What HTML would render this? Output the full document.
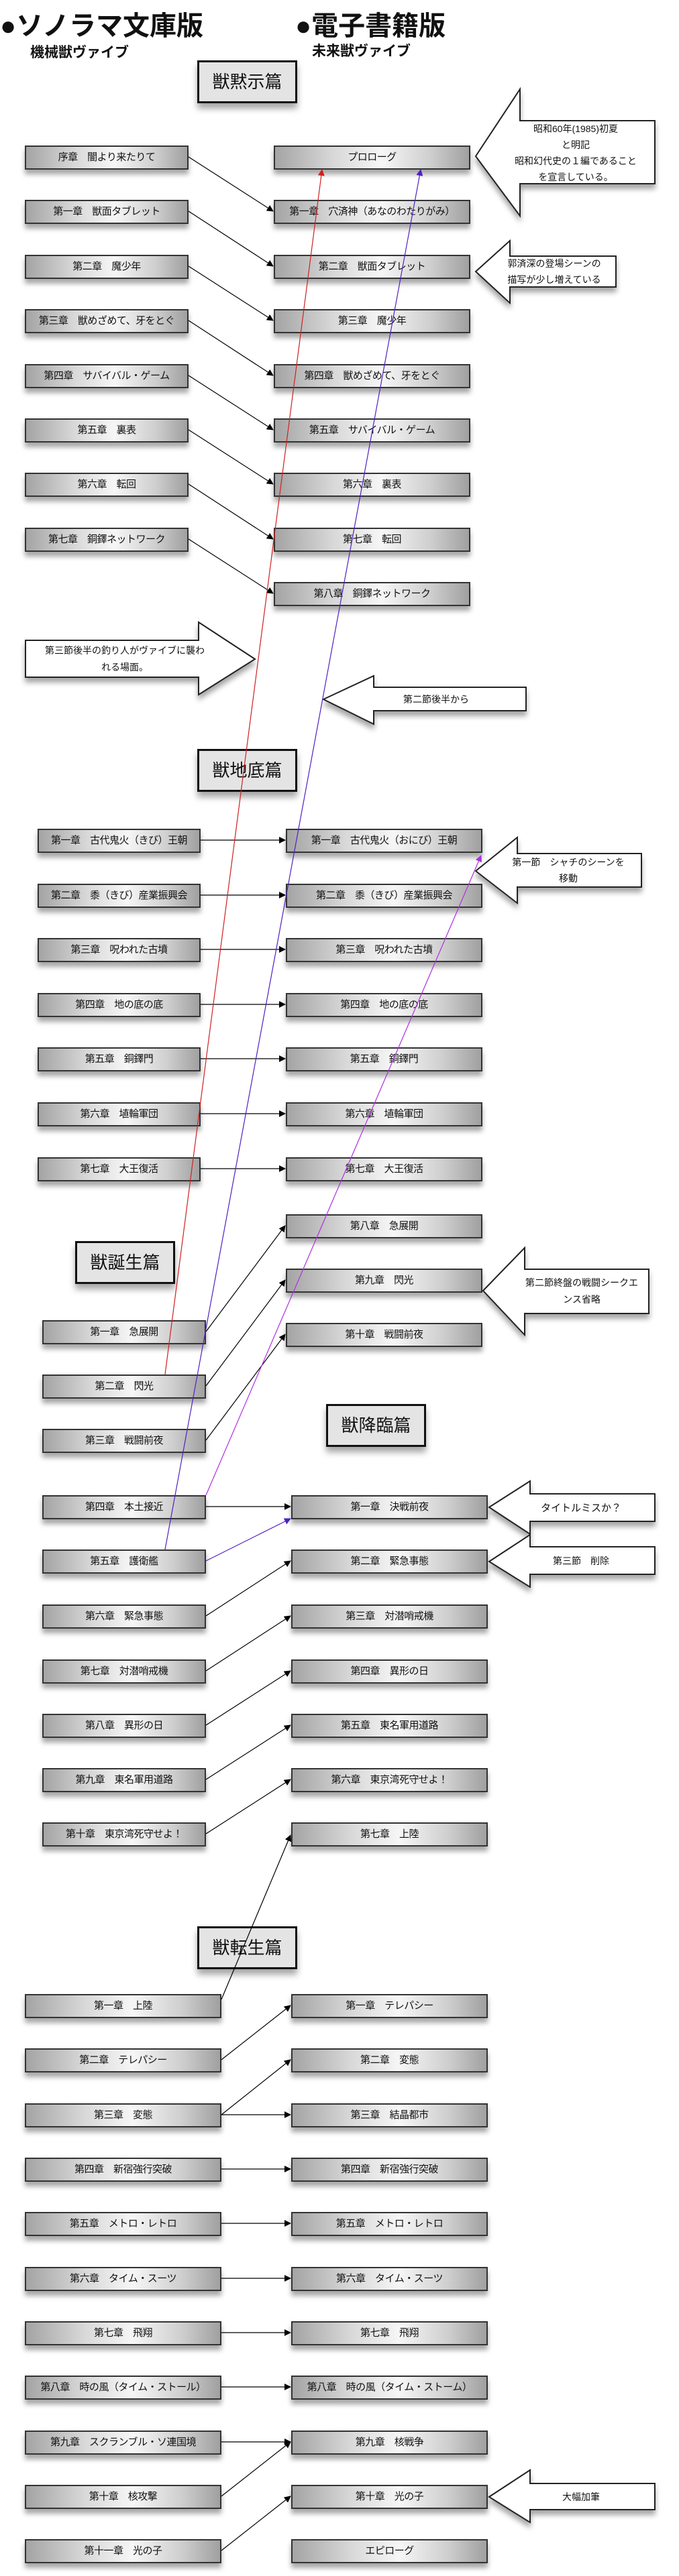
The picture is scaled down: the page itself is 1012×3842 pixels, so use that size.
<!DOCTYPE html>
<html><head><meta charset="utf-8">
<style>
html,body{margin:0;padding:0;background:#fff;}
body{width:1012px;height:3842px;position:relative;overflow:hidden;font-family:"Liberation Sans","Noto Sans CJK JP",sans-serif;color:#111;}
.b{position:absolute;height:32px;border:2px solid #333;box-sizing:content-box;background:linear-gradient(90deg,#a4a4a4 0%,#d8d8d8 30%,#f6f6f6 55%,#cfcfcf 80%,#a0a0a0 100%);box-shadow:0 7px 7px rgba(0,0,0,0.35);font-size:15px;line-height:32px;text-align:center;white-space:nowrap;overflow:hidden;letter-spacing:-0.5px}
.s{position:absolute;width:143px;height:58px;border:3px solid #111;background:#e4e4e4;box-shadow:0 8px 9px rgba(0,0,0,0.35);font-size:26px;line-height:58px;text-align:center}
.t{position:absolute;font-weight:bold;white-space:nowrap}
svg{position:absolute;left:0;top:0}
</style></head><body>
<div class="t" style="left:0;top:6px;font-size:40px">●ソノラマ文庫版</div>
<div class="t" style="left:440px;top:6px;font-size:40px">●電子書籍版</div>
<div class="t" style="left:45px;top:62px;font-size:21px">機械獣ヴァイブ</div>
<div class="t" style="left:465px;top:60px;font-size:21px">未来獣ヴァイブ</div>

<div class="s" style="left:294px;top:90px">獣黙示篇</div>
<div class="s" style="left:294px;top:1117px">獣地底篇</div>
<div class="s" style="left:112px;top:1851px">獣誕生篇</div>
<div class="s" style="left:486px;top:2094px">獣降臨篇</div>
<div class="s" style="left:294px;top:2873px">獣転生篇</div>

<!-- 黙示 left -->
<div class="b" style="left:37px;top:217px;width:240px">序章　闇より来たりて</div>
<div class="b" style="left:37px;top:298px;width:240px">第一章　獣面タブレット</div>
<div class="b" style="left:37px;top:380px;width:240px">第二章　魔少年</div>
<div class="b" style="left:37px;top:461px;width:240px">第三章　獣めざめて、牙をとぐ</div>
<div class="b" style="left:37px;top:543px;width:240px">第四章　サバイバル・ゲーム</div>
<div class="b" style="left:37px;top:624px;width:240px">第五章　裏表</div>
<div class="b" style="left:37px;top:705px;width:240px">第六章　転回</div>
<div class="b" style="left:37px;top:787px;width:240px">第七章　銅鐸ネットワーク</div>
<!-- 黙示 right -->
<div class="b" style="left:408px;top:217px;width:289px">プロローグ</div>
<div class="b" style="left:408px;top:298px;width:289px">第一章　穴済神（あなのわたりがみ）</div>
<div class="b" style="left:408px;top:380px;width:289px">第二章　獣面タブレット</div>
<div class="b" style="left:408px;top:461px;width:289px">第三章　魔少年</div>
<div class="b" style="left:408px;top:543px;width:289px">第四章　獣めざめて、牙をとぐ</div>
<div class="b" style="left:408px;top:624px;width:289px">第五章　サバイバル・ゲーム</div>
<div class="b" style="left:408px;top:705px;width:289px">第六章　裏表</div>
<div class="b" style="left:408px;top:787px;width:289px">第七章　転回</div>
<div class="b" style="left:408px;top:868px;width:289px">第八章　銅鐸ネットワーク</div>

<!-- 地底 -->
<div class="b" style="left:56px;top:1236px;width:239px">第一章　古代鬼火（きび）王朝</div>
<div class="b" style="left:56px;top:1318px;width:239px">第二章　黍（きび）産業振興会</div>
<div class="b" style="left:56px;top:1399px;width:239px">第三章　呪われた古墳</div>
<div class="b" style="left:56px;top:1481px;width:239px">第四章　地の底の底</div>
<div class="b" style="left:56px;top:1562px;width:239px">第五章　銅鐸門</div>
<div class="b" style="left:56px;top:1644px;width:239px">第六章　埴輪軍団</div>
<div class="b" style="left:56px;top:1726px;width:239px">第七章　大王復活</div>
<div class="b" style="left:426px;top:1236px;width:289px">第一章　古代鬼火（おにび）王朝</div>
<div class="b" style="left:426px;top:1318px;width:289px">第二章　黍（きび）産業振興会</div>
<div class="b" style="left:426px;top:1399px;width:289px">第三章　呪われた古墳</div>
<div class="b" style="left:426px;top:1481px;width:289px">第四章　地の底の底</div>
<div class="b" style="left:426px;top:1562px;width:289px">第五章　銅鐸門</div>
<div class="b" style="left:426px;top:1644px;width:289px">第六章　埴輪軍団</div>
<div class="b" style="left:426px;top:1726px;width:289px">第七章　大王復活</div>
<div class="b" style="left:426px;top:1811px;width:289px">第八章　急展開</div>
<div class="b" style="left:426px;top:1892px;width:289px">第九章　閃光</div>
<div class="b" style="left:426px;top:1973px;width:289px">第十章　戦闘前夜</div>

<!-- 誕生 left -->
<div class="b" style="left:63px;top:1969px;width:240px">第一章　急展開</div>
<div class="b" style="left:63px;top:2050px;width:240px">第二章　閃光</div>
<div class="b" style="left:63px;top:2131px;width:240px">第三章　戦闘前夜</div>
<div class="b" style="left:63px;top:2230px;width:240px">第四章　本土接近</div>
<div class="b" style="left:63px;top:2311px;width:240px">第五章　護衛艦</div>
<div class="b" style="left:63px;top:2393px;width:240px">第六章　緊急事態</div>
<div class="b" style="left:63px;top:2475px;width:240px">第七章　対潜哨戒機</div>
<div class="b" style="left:63px;top:2556px;width:240px">第八章　異形の日</div>
<div class="b" style="left:63px;top:2637px;width:240px">第九章　東名軍用道路</div>
<div class="b" style="left:63px;top:2718px;width:240px">第十章　東京湾死守せよ！</div>
<!-- 降臨 right -->
<div class="b" style="left:434px;top:2230px;width:289px">第一章　決戦前夜</div>
<div class="b" style="left:434px;top:2311px;width:289px">第二章　緊急事態</div>
<div class="b" style="left:434px;top:2393px;width:289px">第三章　対潜哨戒機</div>
<div class="b" style="left:434px;top:2475px;width:289px">第四章　異形の日</div>
<div class="b" style="left:434px;top:2556px;width:289px">第五章　東名軍用道路</div>
<div class="b" style="left:434px;top:2637px;width:289px">第六章　東京湾死守せよ！</div>
<div class="b" style="left:434px;top:2718px;width:289px">第七章　上陸</div>

<!-- 転生 -->
<div class="b" style="left:37px;top:2974px;width:289px">第一章　上陸</div>
<div class="b" style="left:37px;top:3055px;width:289px">第二章　テレパシー</div>
<div class="b" style="left:37px;top:3137px;width:289px">第三章　変態</div>
<div class="b" style="left:37px;top:3218px;width:289px">第四章　新宿強行突破</div>
<div class="b" style="left:37px;top:3299px;width:289px">第五章　メトロ・レトロ</div>
<div class="b" style="left:37px;top:3381px;width:289px">第六章　タイム・スーツ</div>
<div class="b" style="left:37px;top:3462px;width:289px">第七章　飛翔</div>
<div class="b" style="left:37px;top:3543px;width:289px">第八章　時の風（タイム・ストール）</div>
<div class="b" style="left:37px;top:3625px;width:289px">第九章　スクランブル・ソ連国境</div>
<div class="b" style="left:37px;top:3706px;width:289px">第十章　核攻撃</div>
<div class="b" style="left:37px;top:3787px;width:289px">第十一章　光の子</div>
<div class="b" style="left:434px;top:2974px;width:289px">第一章　テレパシー</div>
<div class="b" style="left:434px;top:3055px;width:289px">第二章　変態</div>
<div class="b" style="left:434px;top:3137px;width:289px">第三章　結晶都市</div>
<div class="b" style="left:434px;top:3218px;width:289px">第四章　新宿強行突破</div>
<div class="b" style="left:434px;top:3299px;width:289px">第五章　メトロ・レトロ</div>
<div class="b" style="left:434px;top:3381px;width:289px">第六章　タイム・スーツ</div>
<div class="b" style="left:434px;top:3462px;width:289px">第七章　飛翔</div>
<div class="b" style="left:434px;top:3543px;width:289px">第八章　時の風（タイム・ストーム）</div>
<div class="b" style="left:434px;top:3625px;width:289px">第九章　核戦争</div>
<div class="b" style="left:434px;top:3706px;width:289px">第十章　光の子</div>
<div class="b" style="left:434px;top:3787px;width:289px">エピローグ</div>

<svg width="1012" height="3842" viewBox="0 0 1012 3842" font-family="Liberation Sans, Noto Sans CJK JP, sans-serif">
<defs>
<filter id="sh" x="-10%" y="-10%" width="130%" height="140%"><feDropShadow dx="0" dy="7" stdDeviation="4" flood-color="#000" flood-opacity="0.35"/></filter>
<marker id="ak" markerWidth="10" markerHeight="10" refX="9" refY="5" orient="auto" markerUnits="userSpaceOnUse"><path d="M0,0 L10,5 L0,10 z" fill="#000"/></marker>
<marker id="ar" markerWidth="10" markerHeight="10" refX="9" refY="5" orient="auto" markerUnits="userSpaceOnUse"><path d="M0,0 L10,5 L0,10 z" fill="#d02020"/></marker>
<marker id="ap" markerWidth="10" markerHeight="10" refX="9" refY="5" orient="auto" markerUnits="userSpaceOnUse"><path d="M0,0 L10,5 L0,10 z" fill="#5020c0"/></marker>
<marker id="am" markerWidth="10" markerHeight="10" refX="9" refY="5" orient="auto" markerUnits="userSpaceOnUse"><path d="M0,0 L10,5 L0,10 z" fill="#b030e0"/></marker>
</defs>
<g fill="#fff" stroke="#222" stroke-width="2" filter="url(#sh)">
<polygon points="709,233 775,133 775,180 976,180 976,274 775,274 775,322"/>
<polygon points="709,405 760,359 760,382 918,382 918,428 760,428 760,452"/>
<polygon points="380,983 296,928 296,955 38,955 38,1010 296,1010 296,1036"/>
<polygon points="482,1043 557,1008 557,1025 784,1025 784,1060 557,1060 557,1080"/>
<polygon points="709,1299 771,1249 771,1273 956,1273 956,1323 771,1323 771,1347"/>
<polygon points="720,1925 782,1861 782,1893 967,1893 967,1959 782,1959 782,1991"/>
<polygon points="729,2248 790,2209 790,2228 976,2228 976,2269 790,2269 790,2288"/>
<polygon points="729,2329 790,2289 790,2307 976,2307 976,2348 790,2348 790,2367"/>
<polygon points="729,3724 790,3684 790,3704 976,3704 976,3743 790,3743 790,3762"/>
</g>
<g font-size="14" fill="#111" text-anchor="middle">
<text x="858" y="197">昭和60年(1985)初夏</text>
<text x="858" y="221">と明記</text>
<text x="858" y="245">昭和幻代史の１編であること</text>
<text x="858" y="269">を宣言している。</text>
<text x="826" y="398">郭済深の登場シーンの</text>
<text x="826" y="422">描写が少し増えている</text>
<text x="186" y="975">第三節後半の釣り人がヴァイブに襲わ</text>
<text x="186" y="1000">れる場面。</text>
<text x="650" y="1048">第二節後半から</text>
<text x="847" y="1291">第一節　シャチのシーンを</text>
<text x="847" y="1315">移動</text>
<text x="867" y="1918">第二節終盤の戦闘シークエ</text>
<text x="867" y="1943">ンス省略</text>
<text x="866" y="2254" font-size="15">タイトルミスか？</text>
<text x="866" y="2333">第三節　削除</text>
<text x="866" y="3729">大幅加筆</text>
</g>
<g stroke="#000" stroke-width="1.2" fill="none" marker-end="url(#ak)">
<line x1="281" y1="234" x2="407" y2="315"/>
<line x1="281" y1="315" x2="407" y2="397"/>
<line x1="281" y1="397" x2="407" y2="478"/>
<line x1="281" y1="478" x2="407" y2="560"/>
<line x1="281" y1="560" x2="407" y2="641"/>
<line x1="281" y1="641" x2="407" y2="722"/>
<line x1="281" y1="722" x2="407" y2="804"/>
<line x1="281" y1="804" x2="407" y2="885"/>
<line x1="299" y1="1253" x2="425" y2="1253"/>
<line x1="299" y1="1335" x2="425" y2="1335"/>
<line x1="299" y1="1416" x2="425" y2="1416"/>
<line x1="299" y1="1498" x2="425" y2="1498"/>
<line x1="299" y1="1579" x2="425" y2="1579"/>
<line x1="299" y1="1661" x2="425" y2="1661"/>
<line x1="299" y1="1743" x2="425" y2="1743"/>
<line x1="307" y1="1986" x2="425" y2="1828"/>
<line x1="307" y1="2067" x2="425" y2="1909"/>
<line x1="307" y1="2148" x2="425" y2="1990"/>
<line x1="307" y1="2247" x2="433" y2="2247"/>
<line x1="307" y1="2410" x2="433" y2="2328"/>
<line x1="307" y1="2492" x2="433" y2="2410"/>
<line x1="307" y1="2573" x2="433" y2="2492"/>
<line x1="307" y1="2654" x2="433" y2="2573"/>
<line x1="307" y1="2735" x2="433" y2="2654"/>
<line x1="330" y1="2982" x2="433" y2="2737"/>
<line x1="330" y1="3072" x2="433" y2="2991"/>
<line x1="330" y1="3154" x2="433" y2="3072"/>
<line x1="330" y1="3154" x2="433" y2="3154"/>
<line x1="330" y1="3235" x2="433" y2="3235"/>
<line x1="330" y1="3316" x2="433" y2="3316"/>
<line x1="330" y1="3398" x2="433" y2="3398"/>
<line x1="330" y1="3479" x2="433" y2="3479"/>
<line x1="330" y1="3560" x2="433" y2="3560"/>
<line x1="330" y1="3642" x2="433" y2="3642"/>
<line x1="330" y1="3723" x2="433" y2="3642"/>
<line x1="330" y1="3804" x2="433" y2="3723"/>
</g>
<line x1="246" y1="2050" x2="480" y2="253" stroke="#d02020" stroke-width="1.2" marker-end="url(#ar)"/>
<line x1="246" y1="2311" x2="627" y2="253" stroke="#5020c0" stroke-width="1.2" marker-end="url(#ap)"/>
<line x1="307" y1="2230" x2="717" y2="1276" stroke="#b030e0" stroke-width="1.2" marker-end="url(#am)"/>
<line x1="307" y1="2328" x2="433" y2="2265" stroke="#5020c0" stroke-width="1.2" marker-end="url(#ap)"/>
</svg>
</body></html>
